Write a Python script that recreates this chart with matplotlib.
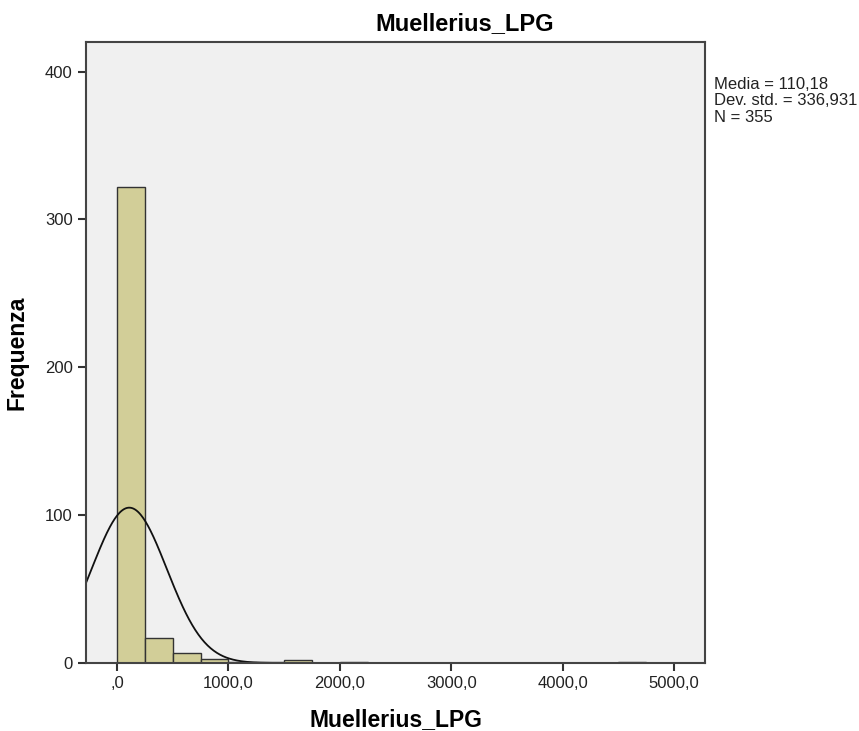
import numpy as np
import matplotlib.pyplot as plt

# Histogram data (bin width 250)
bin_edges = np.arange(0, 5001, 250)
counts = [322, 17, 7, 3, 1, 1, 2, 0, 1, 0, 0, 0, 0, 0, 0, 0, 0, 0, 1, 0]

# Summary statistics shown in the chart
mean_val = 110.18
std_val = 336.931
n_obs = 355

x_ticks = [0, 1000, 2000, 3000, 4000, 5000]
x_tick_labels = [",0", "1000,0", "2000,0", "3000,0", "4000,0", "5000,0"]
y_ticks = [0, 100, 200, 300, 400]

plt.rcParams['font.family'] = ['Liberation Sans', 'DejaVu Sans']

fig = plt.figure(figsize=(8.59, 7.31), dpi=100)
ax = fig.add_axes([0.1001, 0.093, 0.7206, 0.8495])
ax.set_facecolor("#f0f0f0")

# Bars
ax.bar(bin_edges[:-1], counts, width=250, align="edge",
       color="#d2ce98", edgecolor="#333333", linewidth=1)

# Normal curve scaled to counts
xlim = (-278, 5278)
xs = np.linspace(xlim[0], xlim[1], 800)
pdf = np.exp(-0.5 * ((xs - mean_val) / std_val) ** 2) / (std_val * np.sqrt(2 * np.pi))
ax.plot(xs, pdf * n_obs * 250, color="#111111", linewidth=1.3)

ax.set_xlim(xlim)
ax.set_ylim(0, 420)
ax.set_xticks(x_ticks)
ax.set_xticklabels(x_tick_labels)
ax.set_yticks(y_ticks)
ax.tick_params(axis="both", direction="out", length=6, width=1.5,
               colors="#333333", labelsize=12, labelcolor="#222222")

for sp in ax.spines.values():
    sp.set_color("#444444")
    sp.set_linewidth(1.5)

ax.set_xlabel("Muellerius_LPG", fontsize=16.5, fontweight="bold", labelpad=12)
ax.set_ylabel("Frequenza", fontsize=16.5, fontweight="bold", labelpad=12)

fig.text(0.541, 0.968, "Muellerius_LPG", ha="center", va="center",
         fontsize=17, fontweight="bold")

stats_text = "Media = %s\nDev. std. = %s\nN = %d" % (
    str(mean_val).replace(".", ","), str(std_val).replace(".", ","), n_obs)
fig.text(0.831, 0.895, stats_text, ha="left", va="top", fontsize=12,
         linespacing=1.12, color="#222222")

fig.savefig("out.png", dpi=100)
